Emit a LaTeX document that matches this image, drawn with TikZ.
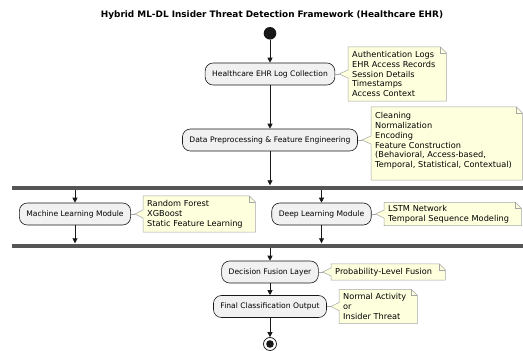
\documentclass[tikz,border=0pt]{standalone}
\usepackage{fontspec}
\setmainfont{DejaVu Sans}
\usetikzlibrary{arrows.meta,calc,backgrounds}
\definecolor{actfill}{HTML}{F1F1F1}
\definecolor{lineclr}{HTML}{181818}
\definecolor{notefill}{HTML}{FEFFDD}
\definecolor{barclr}{HTML}{555555}
\newcommand\drawnote[2]{%
  \begin{scope}[on background layer]
    \draw[noteshape] (#1.north west) -- ([xshift=-6pt]#1.north east) -- ([yshift=-6pt]#1.north east)
      -- (#1.south east) -- (#1.south west) -- ($(#1.west |- #2.east)+(0pt,-4pt)$)
      -- ($(#2.east)+(4pt,0pt)$) -- ($(#1.west |- #2.east)+(0pt,4pt)$) -- cycle;
    \draw[noteshape, fill=none] ([xshift=-6pt]#1.north east) -- ([xshift=-6pt,yshift=-6pt]#1.north east) -- ([yshift=-6pt]#1.north east);
  \end{scope}
  \draw[gray!70, line width=0.5pt] (#2.east) -- ($(#2.east)+(4pt,0pt)$);
}
\begin{document}
\begin{tikzpicture}[x=1pt,y=-1pt,
  act/.style={rectangle, rounded corners=8pt, draw=lineclr, line width=0.6pt, fill=actfill,
    minimum height=22pt, inner xsep=7pt, inner ysep=0pt, font=\fontsize{7.6}{9}\selectfont},
  notebox/.style={anchor=west, inner xsep=4pt, inner ysep=0pt, align=left,
    font=\fontsize{8.2}{9.8}\selectfont},
  flow/.style={draw=lineclr, line width=0.8pt, -{Triangle[length=5pt,width=5pt]}},
  bar/.style={fill=barclr, draw=none, inner sep=0pt, minimum width=511pt, minimum height=4pt, anchor=west},
  noteshape/.style={fill=notefill, draw=gray!70, line width=0.5pt, line join=miter}
]
\useasboundingbox (0,0) rectangle (523,351);
\begin{scope}[on background layer]
  \fill[white] (0,0) rectangle (523,351);
\end{scope}

\node[font=\bfseries\fontsize{8.9}{10}\selectfont] (title) at (272,15)
  {Hybrid ML-DL Insider Threat Detection Framework (Healthcare EHR)};

\node[circle, fill=lineclr, minimum size=12.6pt, inner sep=0pt] (start) at (270,33.3) {};
\node[act] (act1) at (270,74) {Healthcare EHR Log Collection};
\node[act] (act2) at (270,140) {Data Preprocessing \& Feature Engineering};
\node[bar] (fork1) at (12,187.5) {};
\node[act] (ml) at (75,214) {Machine Learning Module};
\node[act] (dl) at (321.5,214) {Deep Learning Module};
\node[bar] (fork2) at (12,245.5) {};
\node[act] (fusion) at (270,272) {Decision Fusion Layer};
\node[act] (final) at (270,306.5) {Final Classification Output};
\node[circle, draw=lineclr, line width=0.7pt, minimum size=13pt, inner sep=0pt,
  path picture={\fill[lineclr] (path picture bounding box.center) circle (3.8pt);}] (end) at (270,344) {};

\node[notebox, text width=90pt, minimum height=54pt] (n1) at (348,74)
  {Authentication Logs\\EHR Access Records\\Session Details\\Timestamps\\Access Context};
\node[notebox, text width=143pt, minimum height=73pt] (n2) at (371,143.5)
  {Cleaning\\Normalization\\Encoding\\Feature Construction\\(Behavioral, Access-based,\\Temporal, Statistical, Contextual)\\[-3pt]\mbox{}};
\node[notebox, text width=104pt, minimum height=36pt] (n3) at (143,214)
  {Random Forest\\XGBoost\\Static Feature Learning};
\node[notebox, text width=129pt, minimum height=23pt] (n4) at (384,214)
  {LSTM Network\\Temporal Sequence Modeling};
\node[notebox, text width=106pt, minimum height=16pt] (n5) at (331,272)
  {Probability-Level Fusion};
\node[notebox, text width=70pt, minimum height=34pt] (n6) at (339,306.5)
  {Normal Activity\\or\\Insider Threat};

\drawnote{n1}{act1}
\drawnote{n2}{act2}
\drawnote{n3}{ml}
\drawnote{n4}{dl}
\drawnote{n5}{fusion}
\drawnote{n6}{final}

\draw[flow] (start) -- (act1);
\draw[flow] (act1) -- (act2);
\draw[flow] (act2) -- (act2 |- fork1.north);
\draw[flow] (ml |- fork1.south) -- (ml);
\draw[flow] (dl |- fork1.south) -- (dl);
\draw[flow] (ml) -- (ml |- fork2.north);
\draw[flow] (dl) -- (dl |- fork2.north);
\draw[flow] (fusion |- fork2.south) -- (fusion);
\draw[flow] (fusion) -- (final);
\draw[flow] (final) -- (end);
\end{tikzpicture}
\end{document}
